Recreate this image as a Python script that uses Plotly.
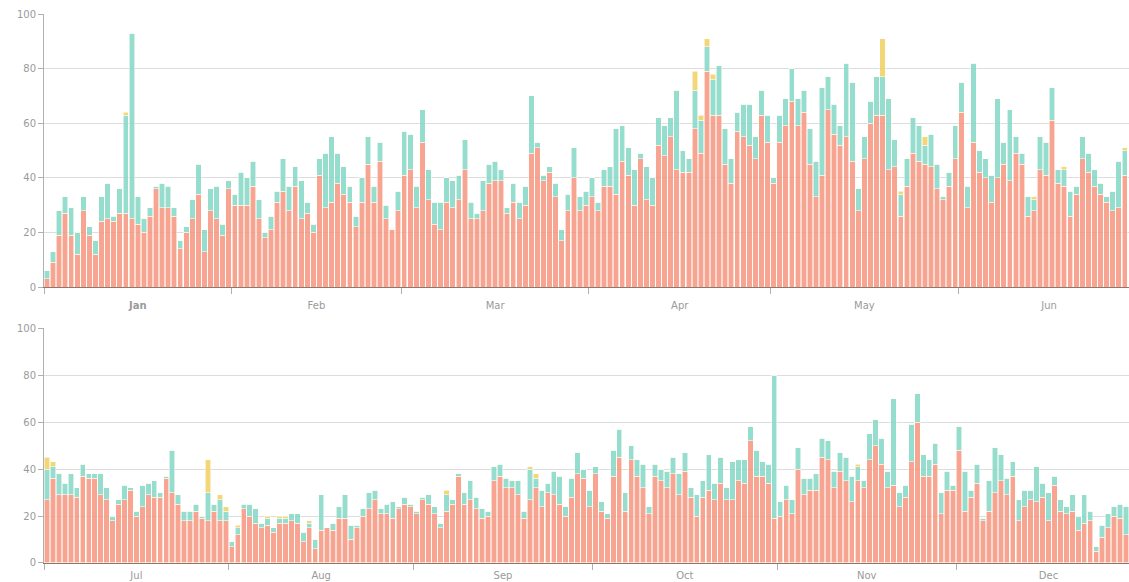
import datetime as dt
import plotly.graph_objects as go

# ---------------- data ----------------
top_start = "2019-01-01"
bottom_start = "2019-07-01"
top_months = ["<b>Jan</b>", "Feb", "Mar", "Apr", "May", "Jun"]
bottom_months = ["Jul", "Aug", "Sep", "Oct", "Nov", "Dec"]

top_red = [
    3, 9, 19, 27, 19, 12, 28, 19, 12, 24,
    25, 24, 27, 27, 25, 23, 20, 26, 36, 29,
    29, 26, 14, 20, 25, 34, 13, 28, 25, 19,
    36, 30, 30, 30, 37, 25, 18, 21, 31, 35,
    28, 37, 25, 27, 20, 41, 29, 31, 38, 34,
    31, 22, 31, 45, 31, 46, 25, 21, 28, 41,
    43, 29, 53, 32, 23, 21, 31, 29, 32, 43,
    25, 25, 28, 38, 39, 39, 27, 31, 25, 30,
    49, 51, 39, 42, 33, 17, 28, 40, 28, 30,
    33, 28, 37, 37, 34, 46, 41, 30, 47, 32,
    30, 52, 48, 55, 43, 42, 42, 58, 49, 79,
    63, 63, 45, 38, 57, 55, 52, 47, 63, 53,
    38, 53, 59, 68, 59, 64, 45, 33, 41, 65,
    56, 52, 55, 46, 28, 47, 60, 63, 63, 43,
    44, 26, 37, 49, 46, 45, 44, 36, 32, 37,
    47, 64, 29, 53, 42, 40, 31, 40, 45, 39,
    49, 45, 26, 28, 43, 41, 61, 38, 37, 26,
    34, 47, 42, 37, 34, 31, 28, 29, 41,
]
top_teal = [
    3, 4, 9, 6, 10, 8, 5, 3, 5, 9,
    13, 2, 9, 36, 68, 10, 5, 3, 1, 9,
    8, 3, 3, 2, 7, 11, 8, 8, 12, 4,
    3, 4, 12, 10, 9, 7, 2, 5, 4, 12,
    9, 7, 14, 4, 3, 6, 20, 24, 11, 10,
    6, 4, 9, 10, 6, 7, 5, 0, 7, 16,
    13, 8, 12, 11, 8, 10, 9, 10, 9, 11,
    6, 2, 11, 7, 7, 4, 2, 7, 6, 7,
    21, 2, 2, 2, 5, 4, 6, 11, 5, 5,
    7, 3, 6, 7, 24, 13, 10, 13, 2, 12,
    10, 10, 11, 7, 29, 8, 5, 14, 12, 9,
    13, 18, 13, 9, 7, 12, 15, 8, 9, 10,
    2, 10, 10, 12, 10, 8, 13, 13, 32, 12,
    11, 7, 27, 29, 8, 8, 8, 14, 14, 26,
    10, 8, 10, 13, 13, 7, 12, 9, 1, 5,
    12, 11, 8, 29, 8, 7, 10, 29, 8, 26,
    6, 4, 7, 4, 12, 12, 12, 5, 6, 9,
    3, 8, 7, 6, 4, 2, 7, 17, 9,
]
top_yellow = [
    0, 0, 0, 0, 0, 0, 0, 0, 0, 0,
    0, 0, 0, 1, 0, 0, 0, 0, 0, 0,
    0, 0, 0, 0, 0, 0, 0, 0, 0, 0,
    0, 0, 0, 0, 0, 0, 0, 0, 0, 0,
    0, 0, 0, 0, 0, 0, 0, 0, 0, 0,
    0, 0, 0, 0, 0, 0, 0, 0, 0, 0,
    0, 0, 0, 0, 0, 0, 0, 0, 0, 0,
    0, 0, 0, 0, 0, 0, 0, 0, 0, 0,
    0, 0, 0, 0, 0, 0, 0, 0, 0, 0,
    0, 0, 0, 0, 0, 0, 0, 0, 0, 0,
    0, 0, 0, 0, 0, 0, 0, 7, 2, 3,
    2, 0, 0, 0, 0, 0, 0, 0, 0, 0,
    0, 0, 0, 0, 0, 0, 0, 0, 0, 0,
    0, 0, 0, 0, 0, 0, 0, 0, 14, 0,
    0, 1, 0, 0, 0, 3, 0, 0, 0, 0,
    0, 0, 0, 0, 0, 0, 0, 0, 0, 0,
    0, 0, 0, 1, 0, 0, 0, 0, 1, 0,
    0, 0, 0, 0, 0, 0, 0, 0, 1,
]

bottom_red = [
    27, 36, 29, 29, 29, 28, 37, 36, 36, 29,
    27, 18, 25, 27, 31, 20, 24, 29, 28, 28,
    36, 30, 25, 18, 18, 22, 19, 18, 22, 18,
    18, 7, 12, 23, 20, 17, 15, 16, 13, 17,
    17, 18, 17, 9, 15, 6, 14, 15, 14, 19,
    19, 10, 15, 20, 23, 27, 21, 21, 19, 23,
    25, 24, 21, 27, 25, 21, 15, 22, 25, 37,
    25, 27, 23, 19, 20, 35, 37, 32, 32, 29,
    19, 27, 32, 24, 30, 29, 25, 20, 28, 38,
    36, 24, 38, 22, 19, 37, 45, 22, 44, 37,
    32, 21, 37, 35, 32, 38, 29, 39, 28, 20,
    28, 31, 27, 34, 27, 27, 35, 34, 52, 37,
    37, 34, 19, 20, 27, 21, 40, 29, 31, 31,
    45, 44, 32, 39, 35, 26, 35, 32, 44, 50,
    42, 32, 33, 24, 28, 43, 60, 37, 37, 42,
    21, 31, 31, 48, 22, 28, 34, 18, 22, 30,
    35, 29, 37, 18, 24, 27, 26, 28, 18, 33,
    22, 21, 22, 14, 17, 18, 5, 11, 15, 20,
    19, 12,
]
bottom_teal = [
    13, 5, 9, 5, 9, 4, 5, 2, 2, 9,
    5, 2, 2, 6, 1, 2, 9, 5, 7, 2,
    1, 18, 4, 4, 4, 3, 1, 12, 3, 9,
    4, 2, 3, 2, 5, 6, 2, 3, 2, 2,
    2, 3, 4, 4, 2, 4, 15, 0, 3, 5,
    10, 6, 1, 3, 7, 4, 2, 4, 7, 1,
    3, 1, 1, 1, 4, 3, 2, 7, 2, 1,
    5, 8, 5, 4, 2, 6, 5, 4, 3, 6,
    3, 13, 4, 7, 4, 10, 12, 4, 8, 9,
    4, 7, 3, 4, 2, 11, 12, 8, 6, 7,
    10, 3, 5, 5, 7, 7, 9, 8, 4, 9,
    7, 15, 7, 11, 5, 16, 9, 10, 6, 11,
    6, 8, 61, 6, 6, 6, 9, 7, 5, 7,
    8, 8, 7, 8, 10, 11, 6, 3, 11, 11,
    11, 7, 37, 6, 5, 16, 12, 9, 7, 9,
    9, 8, 2, 10, 17, 3, 8, 1, 13, 19,
    11, 7, 6, 9, 7, 4, 15, 6, 12, 4,
    5, 3, 7, 6, 12, 4, 2, 5, 6, 4,
    6, 12,
]
bottom_yellow = [
    5, 2, 0, 0, 0, 0, 0, 0, 0, 0,
    0, 0, 0, 0, 0, 0, 0, 0, 0, 0,
    0, 0, 0, 0, 0, 0, 0, 14, 0, 2,
    2, 0, 1, 0, 0, 0, 0, 1, 0, 1,
    1, 0, 0, 0, 1, 0, 0, 0, 0, 0,
    0, 0, 0, 0, 0, 0, 0, 0, 0, 0,
    0, 0, 0, 0, 0, 0, 0, 2, 0, 0,
    0, 0, 0, 0, 0, 0, 0, 0, 0, 0,
    0, 1, 2, 0, 0, 0, 0, 0, 0, 0,
    0, 0, 0, 0, 0, 0, 0, 0, 0, 0,
    0, 0, 0, 0, 0, 0, 0, 0, 0, 0,
    0, 0, 0, 0, 0, 0, 0, 0, 0, 0,
    0, 0, 0, 0, 0, 0, 0, 0, 0, 0,
    0, 0, 0, 0, 0, 0, 1, 0, 0, 0,
    0, 0, 0, 0, 0, 0, 0, 0, 0, 0,
    0, 0, 0, 0, 0, 0, 0, 0, 0, 0,
    0, 0, 0, 0, 0, 0, 0, 0, 0, 0,
    0, 0, 0, 0, 0, 0, 0, 0, 0, 0,
    0, 0,
]

# ---------------- style ----------------
RED = "#F89681"
TEAL = "#84D8C8"
YELLOW = "#F2D063"
OPAC = 0.86
LABEL_GREY = "#9a9a9a"
FONT = "DejaVu Sans"


def day_centers(start, n):
    s = dt.datetime.fromisoformat(start)
    return [s + dt.timedelta(days=i, hours=12) for i in range(n)]


def month_marks(start, count):
    s = dt.datetime.fromisoformat(start)
    starts = []
    y, m = s.year, s.month
    for _ in range(count + 1):
        starts.append(dt.datetime(y, m, 1))
        m += 1
        if m > 12:
            m, y = 1, y + 1
    mids = [a + (b - a) / 2 for a, b in zip(starts[:-1], starts[1:])]
    return starts[:-1], mids


fig = go.Figure()

panels = [
    (top_start, top_red, top_teal, top_yellow, "x", "y"),
    (bottom_start, bottom_red, bottom_teal, bottom_yellow, "x2", "y2"),
]
for start, red, teal, yellow, xa, ya in panels:
    xs = day_centers(start, len(red))
    for vals, col, name in ((red, RED, "A"), (teal, TEAL, "B"), (yellow, YELLOW, "C")):
        fig.add_trace(go.Bar(
            x=xs, y=vals, name=name, xaxis=xa, yaxis=ya,
            marker=dict(color=col, line=dict(color="#fffdf3", width=0.6)),
            opacity=OPAC, showlegend=False,
        ))

top_starts, top_mids = month_marks(top_start, 6)
bot_starts, bot_mids = month_marks(bottom_start, 6)

top_end = dt.datetime.fromisoformat(top_start) + dt.timedelta(days=179.2)
bot_end = dt.datetime.fromisoformat(bottom_start) + dt.timedelta(days=182.0)


def xaxis_cfg(anchor, start, end, mids, labels, starts, lab_len):
    return dict(
        anchor=anchor, domain=[0, 1], type="date", automargin=False,
        range=[dt.datetime.fromisoformat(start), end],
        tickmode="array", tickvals=mids, ticktext=labels,
        ticks="outside", ticklen=lab_len, tickcolor="rgba(0,0,0,0)",
        tickfont=dict(family=FONT, size=10, color=LABEL_GREY),
        minor=dict(tickmode="array", tickvals=starts, ticks="outside",
                   ticklen=6, tickcolor="#b0b0b0", tickwidth=1, showgrid=False),
        showgrid=False, showline=True, linecolor="#8f766e", linewidth=1,
        zeroline=False, fixedrange=True,
    )


def yaxis_cfg(anchor, domain):
    return dict(
        anchor=anchor, domain=domain, range=[0, 100], dtick=20, automargin=False,
        tickmode="linear", tick0=0,
        showgrid=True, gridcolor="#dddddd", gridwidth=1,
        showline=True, linecolor="#b0b0b0", linewidth=1,
        ticks="outside", ticklen=5, tickcolor="#b0b0b0",
        tickfont=dict(family=FONT, size=10, color=LABEL_GREY),
        zeroline=False, fixedrange=True,
    )


fig.update_layout(
    width=1129, height=582,
    margin=dict(l=44, r=0, t=14, b=19, autoexpand=False),
    paper_bgcolor="white", plot_bgcolor="white",
    barmode="stack", bargap=0.1,
    showlegend=False,
    font=dict(family=FONT, size=10, color=LABEL_GREY),
    xaxis=xaxis_cfg("y", top_start, top_end, top_mids, top_months, top_starts, 9),
    yaxis=yaxis_cfg("x", [0.5027, 1.0]),
    xaxis2=xaxis_cfg("y2", bottom_start, bot_end, bot_mids, bottom_months, bot_starts, 3),
    yaxis2=yaxis_cfg("x2", [0.0, 0.428]),
)

fig.write_html(
    "out.html",
    config={"displayModeBar": False},
    post_script="document.body.style.margin='0';document.body.style.overflow='hidden';",
)
